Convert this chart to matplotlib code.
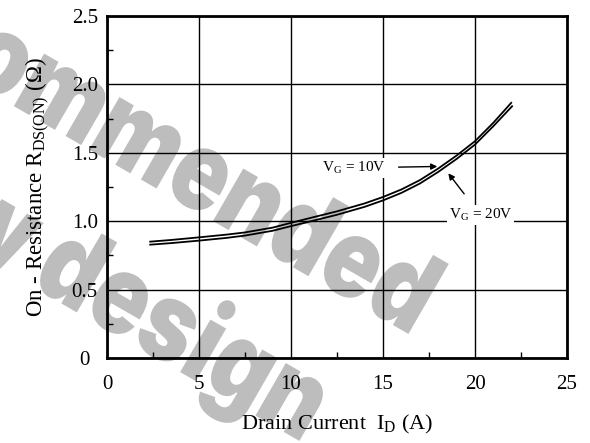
import matplotlib
matplotlib.use("Agg")
import matplotlib.pyplot as plt
from matplotlib.ticker import MultipleLocator
from matplotlib.patheffects import AbstractPathEffect
from matplotlib.transforms import Affine2D

plt.rcParams['font.family'] = ['Liberation Serif', 'DejaVu Serif']
plt.rcParams['mathtext.default'] = 'regular'

# On-resistance vs drain current
id_10v = [2.3, 3.5, 5, 6.5, 7.5, 9, 10, 11, 12.5, 14, 15, 16, 17, 18, 19, 20, 21, 22]
rds_10v = [0.850, 0.863, 0.882, 0.902, 0.918, 0.953, 0.988, 1.022, 1.072, 1.130, 1.177,
           1.232, 1.300, 1.385, 1.480, 1.585, 1.720, 1.870]
id_20v = [2.3, 3.5, 5, 6.5, 7.5, 9, 10, 11, 12.5, 14, 15, 16, 17, 18, 19, 20, 21, 22.05]
rds_20v = [0.828, 0.840, 0.858, 0.878, 0.895, 0.930, 0.964, 0.997, 1.047, 1.105, 1.152,
           1.207, 1.275, 1.360, 1.455, 1.560, 1.695, 1.845]

x_ticks = [0, 5, 10, 15, 20, 25]
y_ticks = [0, 0.5, 1.0, 1.5, 2.0, 2.5]
y_ticklabels = ['0', '0.5', '1.0', '1.5', '2.0', '2.5']

W, H = 590, 443


class Squeeze(AbstractPathEffect):
    # narrows rotated text along its baseline, around its anchor (pixels)
    def __init__(self, sx, angle, anchor):
        super().__init__()
        ax_, ay_ = anchor
        self.t = (Affine2D().translate(-ax_, -ay_).rotate_deg(-angle)
                  .scale(sx, 1).rotate_deg(angle).translate(ax_, ay_))

    def draw_path(self, renderer, gc, tpath, affine, rgbFace=None):
        renderer.draw_path(gc, tpath, affine + self.t, rgbFace)


fig = plt.figure(figsize=(W / 100, H / 100), dpi=100)

# grey watermark behind the chart
wm_angle = -30
wm = dict(color='#bdbdbd', fontfamily='Inter', fontweight=900,
          fontsize=80, rotation_mode='anchor', zorder=-5)
for word, (px, py) in [('recommended', (412, 336)), ('new design', (303, 443))]:
    fig.text(px / W, 1 - py / H, word, ha='right', va='baseline',
             rotation=wm_angle,
             path_effects=[Squeeze(0.83, wm_angle, (px, H - py))], **wm)

ax = fig.add_axes([107 / W, 1 - 358 / H, (567 - 107) / W, (358 - 16) / H])
ax.set_facecolor('none')

ax.plot(id_10v, rds_10v, color='black', lw=1.3, solid_capstyle='butt', zorder=3)
ax.plot(id_20v, rds_20v, color='black', lw=1.3, solid_capstyle='butt', zorder=3)

ax.set_xlim(0, 25)
ax.set_ylim(0, 2.5)
ax.set_xticks(x_ticks)
ax.set_xticklabels([str(v) for v in x_ticks])
ax.set_yticks(y_ticks)
ax.set_yticklabels(y_ticklabels)
ax.xaxis.set_minor_locator(MultipleLocator(2.5))
ax.yaxis.set_minor_locator(MultipleLocator(0.25))
ax.grid(True, which='major', color='black', lw=1.0)
ax.tick_params(which='major', length=0, labelsize=15)
ax.tick_params(axis='x', which='major', pad=12)
ax.tick_params(axis='y', which='major', pad=16)
ax.tick_params(which='minor', direction='in', length=4, width=1, color='black')
for lbl in ax.get_yticklabels():
    lbl.set_horizontalalignment('center')
for s in ax.spines.values():
    s.set_linewidth(2)

ax.set_xlabel('Drain Current  $I_D$ (A)', fontsize=16, labelpad=14)
ax.set_ylabel('On - Resistance $R_{DS(ON)}$ (Ω)', fontsize=16.5, labelpad=14)

box = dict(facecolor='white', edgecolor='none', pad=1.5)
ax.annotate('$V_G$ = 10V', xy=(17.95, 1.40), xytext=(13.4, 1.39),
            fontsize=11, ha='center', va='center', bbox=box,
            arrowprops=dict(arrowstyle='-|>', color='black', lw=1,
                            mutation_scale=9, shrinkA=8, shrinkB=0))
ax.annotate('$V_G$ = 20V', xy=(18.55, 1.35), xytext=(20.3, 1.045),
            fontsize=11, ha='center', va='center', bbox=box,
            arrowprops=dict(arrowstyle='-|>', color='black', lw=1,
                            mutation_scale=9, shrinkA=10, shrinkB=0))

fig.savefig('out.png', dpi=100)
